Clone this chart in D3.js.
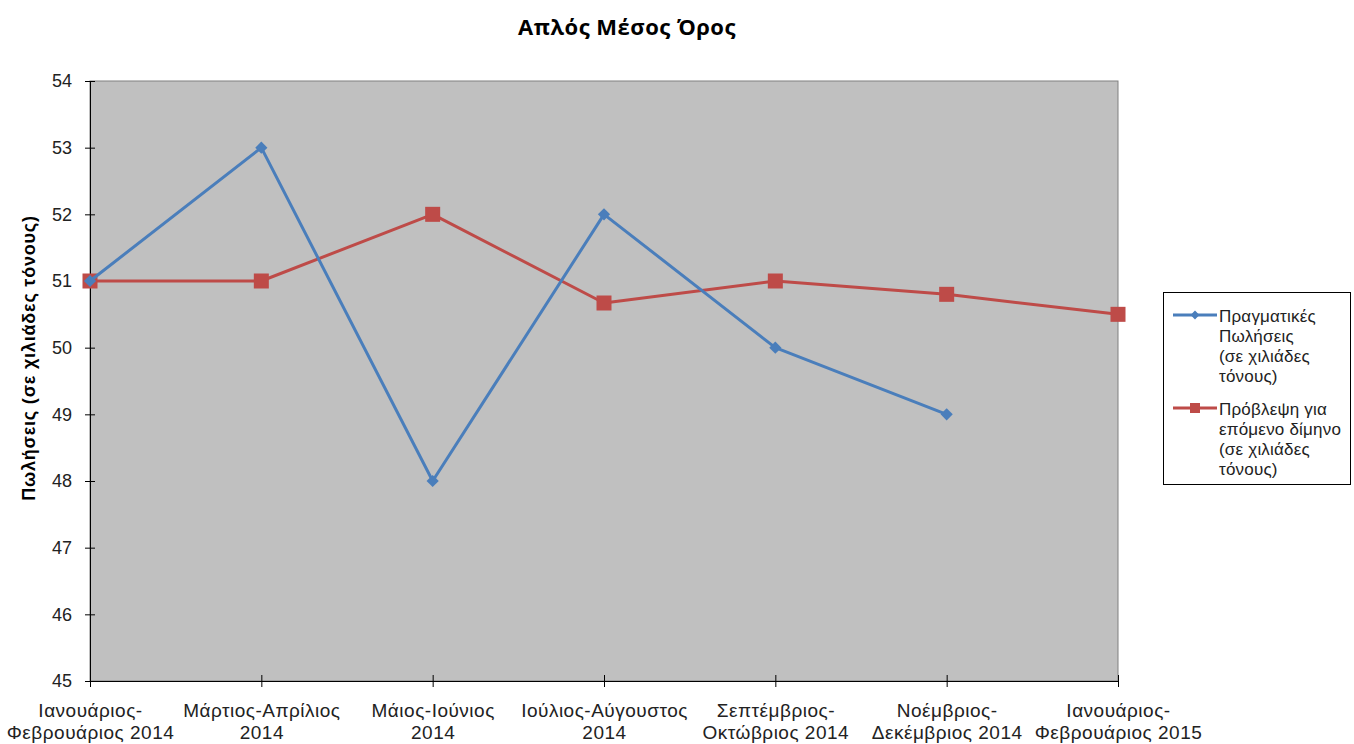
<!DOCTYPE html>
<html>
<head>
<meta charset="utf-8">
<script src="https://cdn.jsdelivr.net/npm/d3@7"></script>
<style>
  body { margin: 0; background: #fff; }
  svg { display: block; }
</style>
</head>
<body>
<svg id="chart" width="1354" height="744"></svg>
<script>
// Two-month periods (two label lines each)
const periods = [
  ["Ιανουάριος-", "Φεβρουάριος 2014"],
  ["Μάρτιος-Απρίλιος", "2014"],
  ["Μάιος-Ιούνιος", "2014"],
  ["Ιούλιος-Αύγουστος", "2014"],
  ["Σεπτέμβριος-", "Οκτώβριος 2014"],
  ["Νοέμβριος-", "Δεκέμβριος 2014"],
  ["Ιανουάριος-", "Φεβρουάριος 2015"]
];
// Actual sales (thousand tonnes)
const actualSales = [51, 53, 48, 52, 50, 49];
// Simple moving average forecast for the next period
const forecast = [51, 51, 52, 50.67, 51, 50.8, 50.5];
const yTicks = [45, 46, 47, 48, 49, 50, 51, 52, 53, 54];

const seriesNames = [
  ["Πραγματικές", "Πωλήσεις", "(σε χιλιάδες", "τόνους)"],
  ["Πρόβλεψη για", "επόμενο δίμηνο", "(σε χιλιάδες", "τόνους)"]
];

const svg = d3.select("#chart");
const plotLeft = 90, plotRight = 1118, plotTop = 81, plotBottom = 681;
const labelFont = "'Liberation Sans', Arial, sans-serif";

const x = d3.scalePoint().domain(d3.range(periods.length)).range([plotLeft, plotRight]);
const y = d3.scaleLinear().domain([45, 54]).range([plotBottom, plotTop]);

// Plot area
svg.append("rect")
  .attr("x", plotLeft).attr("y", plotTop)
  .attr("width", plotRight - plotLeft).attr("height", plotBottom - plotTop)
  .attr("fill", "#c0c0c0")
  .attr("stroke", "#808080").attr("stroke-width", 1);

// Title
svg.append("text")
  .attr("x", 627).attr("y", 35)
  .attr("text-anchor", "middle")
  .attr("font-family", "'Open Sans', sans-serif")
  .attr("font-weight", "bold")
  .attr("font-size", 22)
  .attr("letter-spacing", 0.5)
  .attr("fill", "#000")
  .text("Απλός Μέσος Όρος");

// Y axis
const yAxis = svg.append("g")
  .attr("transform", `translate(${plotLeft},0)`)
  .call(d3.axisLeft(y).tickValues(yTicks).tickFormat(d3.format("d")).tickSize(5).tickPadding(13));
yAxis.select(".domain").attr("stroke", "#000");
yAxis.selectAll(".tick line").attr("x1", -5).attr("x2", 5).attr("stroke", "#000");
yAxis.selectAll(".tick text")
  .attr("font-family", labelFont)
  .attr("font-size", 18).attr("fill", "#222");

// X axis
const xAxis = svg.append("g")
  .attr("transform", `translate(0,${plotBottom})`)
  .call(d3.axisBottom(x).tickSize(6).tickFormat(""));
xAxis.select(".domain").attr("stroke", "#000");
xAxis.selectAll(".tick line").attr("y1", -6).attr("y2", 6).attr("stroke", "#000");
xAxis.selectAll(".tick").each(function(d) {
  const t = d3.select(this).append("text")
    .attr("text-anchor", "middle")
    .attr("font-family", labelFont)
    .attr("font-size", 19).attr("letter-spacing", 0.5).attr("fill", "#222");
  periods[d].forEach((line, i) => {
    t.append("tspan").attr("x", 0).attr("y", 36 + i * 22).text(line);
  });
});

// Y axis title
svg.append("text")
  .attr("transform", `translate(35,358) rotate(-90)`)
  .attr("text-anchor", "middle")
  .attr("font-family", labelFont)
  .attr("font-weight", "bold")
  .attr("font-size", 18)
  .attr("letter-spacing", 0.8)
  .attr("fill", "#000")
  .text("Πωλήσεις (σε χιλιάδες τόνους)");

const blue = "#4a7ebb", red = "#be4b48";
const line = d3.line().x((d, i) => x(i)).y(d => y(d));

// Forecast series
svg.append("path").datum(forecast)
  .attr("d", line).attr("fill", "none")
  .attr("stroke", red).attr("stroke-width", 3).attr("stroke-linejoin", "round");
svg.selectAll(".sq").data(forecast).enter().append("rect")
  .attr("x", (d, i) => x(i) - 7.5).attr("y", d => y(d) - 7.5)
  .attr("width", 15).attr("height", 15).attr("fill", red);

// Actual series
svg.append("path").datum(actualSales)
  .attr("d", line).attr("fill", "none")
  .attr("stroke", blue).attr("stroke-width", 3).attr("stroke-linejoin", "round");
const diamond = d3.symbol().type(d3.symbolDiamond2).size(95);
svg.selectAll(".dm").data(actualSales).enter().append("path")
  .attr("d", diamond)
  .attr("transform", (d, i) => `translate(${x(i)},${y(d)})`)
  .attr("fill", blue);

// Legend
svg.append("rect")
  .attr("x", 1163.5).attr("y", 292.5).attr("width", 187).attr("height", 192)
  .attr("fill", "#fff").attr("stroke", "#000").attr("stroke-width", 1);

const legendRows = [
  { color: blue, y: 315, marker: "diamond", lines: seriesNames[0] },
  { color: red, y: 408, marker: "square", lines: seriesNames[1] }
];
legendRows.forEach(r => {
  svg.append("line").attr("x1", 1173).attr("x2", 1217)
    .attr("y1", r.y).attr("y2", r.y)
    .attr("stroke", r.color).attr("stroke-width", 3);
  if (r.marker === "diamond") {
    svg.append("path").attr("d", d3.symbol().type(d3.symbolDiamond2).size(50))
      .attr("transform", `translate(1195,${r.y})`).attr("fill", r.color);
  } else {
    svg.append("rect").attr("x", 1190).attr("y", r.y - 5)
      .attr("width", 10).attr("height", 10).attr("fill", r.color);
  }
  const t = svg.append("text")
    .attr("font-family", labelFont)
    .attr("font-size", 17).attr("letter-spacing", 0.2).attr("fill", "#222");
  r.lines.forEach((s, i) => {
    t.append("tspan").attr("x", 1219).attr("y", r.y + 7 + i * 20).text(s);
  });
});
</script>
</body>
</html>
